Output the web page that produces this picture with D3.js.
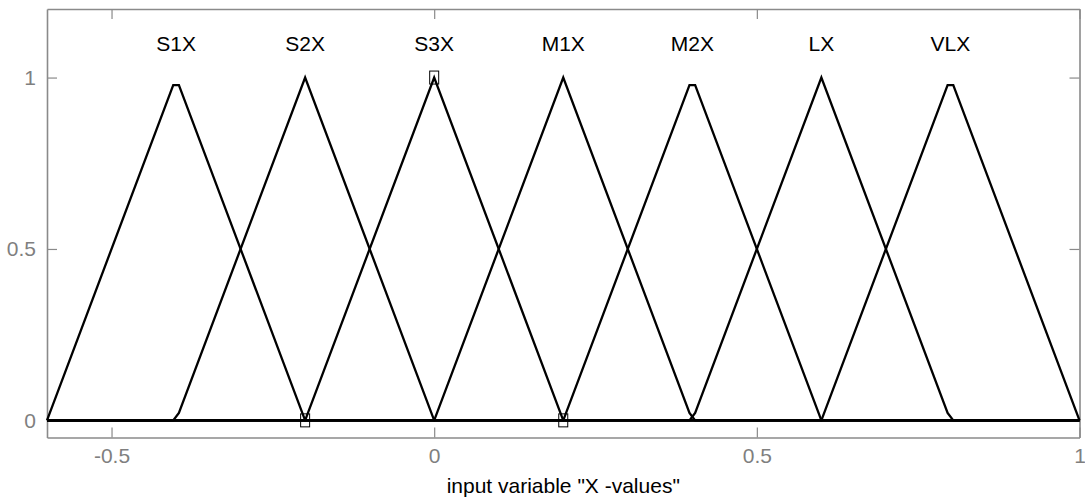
<!DOCTYPE html>
<html>
<head>
<meta charset="utf-8">
<script src="https://cdn.jsdelivr.net/npm/d3@7"></script>
<style>
  html, body { margin: 0; padding: 0; background: #fff; }
  svg { display: block; font-family: "Liberation Sans", Arial, sans-serif; }
</style>
</head>
<body>
<svg id="chart" width="1085" height="501"></svg>
<script>
// Membership function names, peak positions (for labels) and sampled vertices
const mfNames = ["S1X", "S2X", "S3X", "M1X", "M2X", "LX", "VLX"];
const mfPeaks = [-0.4, -0.2, 0, 0.2, 0.4, 0.6, 0.8];
const mfS1X = [[-0.6, 0], [-0.4044, 0.978], [-0.3956, 0.978], [-0.2, 0]];
const mfS2X = [[-0.4044, 0], [-0.3956, 0.022], [-0.2, 1], [0, 0]];
const mfS3X = [[-0.2, 0], [0, 1], [0.2, 0]];
const mfM1X = [[0, 0], [0.2, 1], [0.3956, 0.022], [0.4044, 0]];
const mfM2X = [[0.2, 0], [0.3956, 0.978], [0.4044, 0.978], [0.6, 0]];
const mfLX  = [[0.3956, 0], [0.4044, 0.022], [0.6, 1], [0.7956, 0.022], [0.8044, 0]];
const mfVLX = [[0.6, 0], [0.7956, 0.978], [0.8044, 0.978], [1, 0]];
const mfCurves = [mfS1X, mfS2X, mfS3X, mfM1X, mfM2X, mfLX, mfVLX];

// Highlighted sample markers
const markerPoints = [[0, 1], [-0.2, 0], [0.2, 0]];

// Axis ranges and tick values
const xDomain = [-0.6, 1];
const yDomain = [-0.05, 1.2];
const xTicks = [-0.5, 0, 0.5, 1];
const yTicks = [0, 0.5, 1];
const xLabel = 'input variable "X -values"';

const margin = { left: 47, right: 5, top: 9, bottom: 63 };
const W = 1085, H = 501;
const svg = d3.select("#chart");

const x = d3.scaleLinear().domain(xDomain).range([margin.left, W - margin.right - 0.5]);
const y = d3.scaleLinear().domain(yDomain).range([H - margin.bottom - 0.5, margin.top]);

const axisColor = "#8a8a8a";
// Plain hyphen for negative numbers
const fmt = d => String(d);

// Axes box with inward ticks on all four sides
function styleAxis(g, showLabels) {
  g.select(".domain").attr("stroke", axisColor).attr("stroke-width", 1.6);
  g.selectAll(".tick line").attr("stroke", axisColor).attr("stroke-width", 1.2);
  g.selectAll(".tick text")
    .attr("fill", "#7f7f7f")
    .style("font-size", "21px")
    .style("font-family", "'Liberation Sans', Arial, sans-serif")
    .style("display", showLabels ? null : "none");
}

const y0 = y.range()[0], y1 = y.range()[1];
const x0 = x.range()[0], x1 = x.range()[1];

svg.append("g").attr("transform", `translate(0,${y0})`)
  .call(d3.axisBottom(x).tickValues(xTicks).tickFormat(fmt).tickSizeInner(-10).tickSizeOuter(0).tickPadding(11))
  .call(g => styleAxis(g, true));
svg.append("g").attr("transform", `translate(0,${y1})`)
  .call(d3.axisTop(x).tickValues(xTicks).tickSizeInner(-10).tickSizeOuter(0))
  .call(g => styleAxis(g, false));
svg.append("g").attr("transform", `translate(${x0},0)`)
  .call(d3.axisLeft(y).tickValues(yTicks).tickFormat(fmt).tickSizeInner(-10).tickSizeOuter(0).tickPadding(11))
  .call(g => styleAxis(g, true));
svg.append("g").attr("transform", `translate(${x1},0)`)
  .call(d3.axisRight(y).tickValues(yTicks).tickSizeInner(-10).tickSizeOuter(0))
  .call(g => styleAxis(g, false));

// Each membership curve spans the whole input range
const line = d3.line().x(d => x(d[0])).y(d => y(d[1]));
const fullRange = pts => {
  const out = pts.slice();
  if (out[0][0] > xDomain[0]) out.unshift([xDomain[0], 0]);
  if (out[out.length - 1][0] < xDomain[1]) out.push([xDomain[1], 0]);
  return out;
};

svg.append("g").selectAll("path")
  .data(mfCurves)
  .join("path")
  .attr("d", d => line(fullRange(d)))
  .attr("fill", "none")
  .attr("stroke", "#000")
  .attr("stroke-width", 2.3);

// Sample markers
svg.append("g").selectAll("rect")
  .data(markerPoints)
  .join("rect")
  .attr("x", d => x(d[0]) - 4.5)
  .attr("y", d => y(d[1]) - 6.5)
  .attr("width", 9)
  .attr("height", 13)
  .attr("fill", "none")
  .attr("stroke", "#000")
  .attr("stroke-width", 1);

// Membership function names above each peak
svg.append("g").selectAll("text")
  .data(mfNames)
  .join("text")
  .attr("x", (d, i) => x(mfPeaks[i]))
  .attr("y", 51)
  .attr("text-anchor", "middle")
  .attr("fill", "#000")
  .style("font-size", "21px")
  .text(d => d);

// Axis title
svg.append("text")
  .attr("x", x(0.2))
  .attr("y", 493)
  .attr("text-anchor", "middle")
  .attr("fill", "#000")
  .style("font-size", "21px")
  .text(xLabel);
</script>
</body>
</html>
